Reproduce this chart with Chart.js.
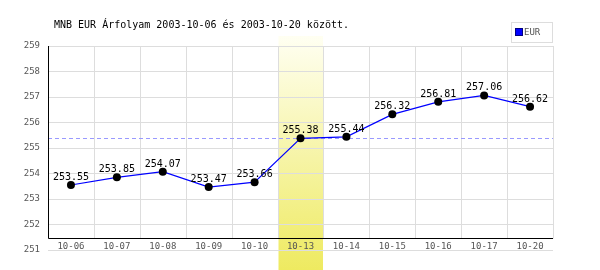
<!DOCTYPE html>
<html>
<head>
<meta charset="utf-8">
<script src="https://cdn.jsdelivr.net/npm/chart.js@4.4.1/dist/chart.umd.min.js"></script>
<style>
  html, body { margin: 0; padding: 0; background: #ffffff; }
  canvas { display: block; }
</style>
</head>
<body>
<canvas id="c" width="600" height="270"></canvas>
<script>
// ---- data ----
const titleText = 'MNB EUR Árfolyam 2003-10-06 és 2003-10-20 között.';
const seriesName = 'EUR';
const categories = ['10-06', '10-07', '10-08', '10-09', '10-10', '10-13', '10-14', '10-15', '10-16', '10-17', '10-20'];
const eurValues = [253.55, 253.85, 254.07, 253.47, 253.66, 255.38, 255.44, 256.32, 256.81, 257.06, 256.62];
const yMin = 251;
const yMax = 259;
const yStep = 1;
const highlightCategory = '10-13';

// ---- styles ----
const MONO = '"DejaVu Sans Mono", "Liberation Mono", monospace';
const AXIS_GAP = 12; // black axis line sits this many px above the plot bottom

const decorPlugin = {
  id: 'decor',
  beforeDraw(chart) {
    const ctx = chart.ctx;
    const xs = chart.scales.x;
    const n = categories.length;
    const w = xs.width / n;
    const hi = categories.indexOf(highlightCategory);
    if (hi >= 0) {
      const cx = xs.getPixelForValue(hi);
      const x0 = Math.round(cx - w / 2) + 0.5;
      const x1 = Math.round(cx + w / 2);
      const top = 36, bottom = chart.height;
      const g = ctx.createLinearGradient(0, top, 0, bottom);
      g.addColorStop(0, 'rgb(255,255,242)');
      g.addColorStop(1, 'rgb(238,234,96)');
      ctx.save();
      ctx.fillStyle = g;
      ctx.fillRect(x0, top, x1 - x0, bottom - top);
      ctx.restore();
    }
  },
  beforeDatasetsDraw(chart) {
    const ctx = chart.ctx;
    const ca = chart.chartArea;
    const xs = chart.scales.x;
    const ys = chart.scales.y;
    const n = categories.length;
    const w = xs.width / n;
    const axisY = Math.round(ca.bottom - AXIS_GAP) + 0.5;
    ctx.save();
    // vertical grid lines
    ctx.strokeStyle = '#dddddd';
    ctx.lineWidth = 1;
    for (let i = 1; i <= n; i++) {
      const xp = Math.round(xs.getPixelForValue(i - 1) + w / 2) + 0.5;
      ctx.beginPath();
      ctx.moveTo(xp, ca.top);
      ctx.lineTo(xp, axisY);
      ctx.stroke();
    }
    // category labels (from the x scale's ticks), sitting between axis line and plot bottom
    ctx.font = '9px ' + MONO;
    ctx.fillStyle = '#555555';
    ctx.textAlign = 'center';
    ctx.textBaseline = 'middle';
    xs.ticks.forEach((t, i) => {
      ctx.fillText(xs.getLabelForValue(t.value), xs.getPixelForTick(i), ca.bottom - 3);
    });
    // reference dashed line at highlighted day's value
    const hi = categories.indexOf(highlightCategory);
    if (hi >= 0) {
      const yp = Math.round(ys.getPixelForValue(eurValues[hi])) + 0.5;
      ctx.strokeStyle = '#9999ff';
      ctx.setLineDash([4, 3]);
      ctx.beginPath();
      ctx.moveTo(ca.left, yp);
      ctx.lineTo(ca.right, yp);
      ctx.stroke();
      ctx.setLineDash([]);
    }
    // black axes
    ctx.strokeStyle = '#000000';
    ctx.lineWidth = 1;
    const lx = Math.round(ca.left) + 0.5;
    ctx.beginPath();
    ctx.moveTo(lx, ca.top);
    ctx.lineTo(lx, axisY);
    ctx.lineTo(ca.right, axisY);
    ctx.stroke();
    ctx.restore();
  },
  afterDatasetsDraw(chart) {
    const ctx = chart.ctx;
    const meta = chart.getDatasetMeta(0);
    ctx.save();
    ctx.font = '10px ' + MONO;
    ctx.fillStyle = '#000000';
    ctx.textAlign = 'center';
    ctx.textBaseline = 'alphabetic';
    meta.data.forEach((pt, i) => {
      ctx.fillText(eurValues[i].toFixed(2), pt.x, pt.y - 5);
    });
    ctx.restore();
  },
  afterDraw(chart) {
    const ctx = chart.ctx;
    ctx.save();
    // title
    ctx.font = '10px ' + MONO;
    ctx.fillStyle = '#000000';
    ctx.textAlign = 'left';
    ctx.textBaseline = 'middle';
    ctx.fillText(titleText, 54, 25);
    // legend
    ctx.strokeStyle = '#dddddd';
    ctx.lineWidth = 1;
    ctx.strokeRect(511.5, 22.5, 41, 20);
    ctx.fillStyle = '#0000ff';
    ctx.fillRect(516, 29, 6, 6);
    ctx.strokeStyle = '#000080';
    ctx.strokeRect(515.5, 28.5, 7, 7);
    ctx.font = '9px ' + MONO;
    ctx.fillStyle = '#555555';
    ctx.textBaseline = 'middle';
    ctx.fillText(chart.data.datasets[0].label, 524, 33);
    ctx.restore();
  }
};

new Chart(document.getElementById('c'), {
  type: 'line',
  data: {
    labels: categories,
    datasets: [{
      label: seriesName,
      data: eurValues,
      borderColor: '#0000ff',
      borderWidth: 1.2,
      pointBackgroundColor: '#000000',
      pointBorderColor: '#000000',
      pointBorderWidth: 0,
      pointRadius: 4,
      fill: false,
      tension: 0
    }]
  },
  options: {
    responsive: false,
    animation: false,
    devicePixelRatio: 1,
    layout: { padding: { left: 0, right: 47, top: 46, bottom: 0 } },
    plugins: {
      legend: { display: false },
      title: { display: false },
      tooltip: { enabled: false }
    },
    scales: {
      x: {
        type: 'category',
        offset: true,
        grid: { display: false },
        border: { display: false },
        ticks: { display: false, autoSkip: false, maxRotation: 0 },
        afterFit(s) { s.height = 20; }
      },
      y: {
        min: yMin,
        max: yMax,
        grid: { color: '#dddddd', lineWidth: 1, drawTicks: false },
        border: { display: false },
        ticks: {
          stepSize: yStep,
          color: '#555555',
          font: { family: MONO, size: 9 },
          padding: 8
        },
        afterFit(s) { s.width = 48; }
      }
    }
  },
  plugins: [decorPlugin]
});
</script>
</body>
</html>
